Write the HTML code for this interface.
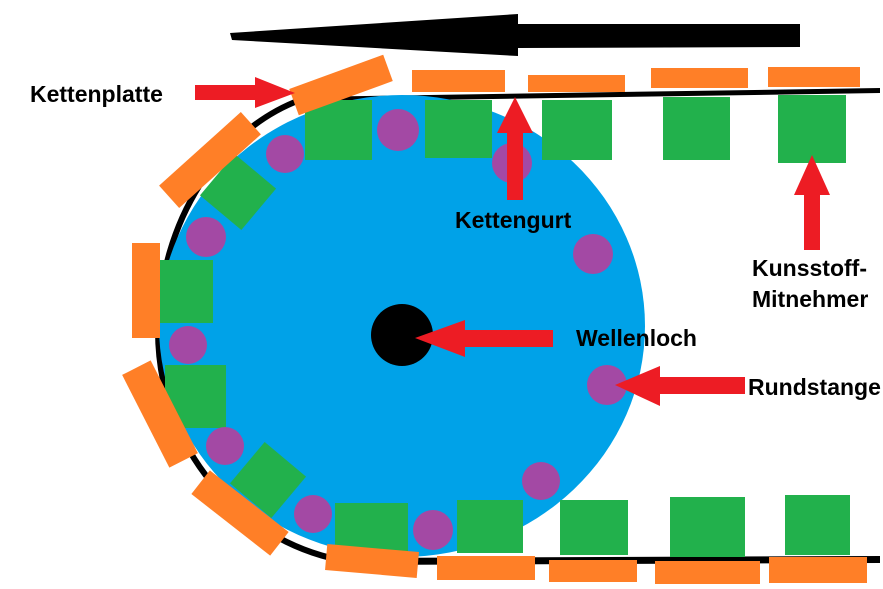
<!DOCTYPE html>
<html><head><meta charset="utf-8"><style>
html,body{margin:0;padding:0;background:#fff;width:883px;height:589px;overflow:hidden}
svg{display:block}
text{font-family:"Liberation Sans Narrow","Liberation Sans",sans-serif;font-weight:bold;font-size:23px;fill:#000}
</style></head><body>
<svg width="883" height="589" viewBox="0 0 883 589" xmlns="http://www.w3.org/2000/svg">
<!-- top black arrow -->
<polygon points="230,33 232,40 518,56 518,48 800,47 800,24 518,24 518,14" fill="#000"/>
<!-- black chain outline -->
<path d="M300,97 L880,88 L880,93 L300,102 Z" fill="#000"/>
<path d="M330,558 L880,556 L880,563 L330,565 Z" fill="#000"/>
<path d="M300,100 C220,130 160,220 158,330 C158,450 240,540 340,560" fill="none" stroke="#000" stroke-width="6"/>
<!-- blue wheel -->
<ellipse cx="402" cy="326" rx="243" ry="231" fill="#00a2e8"/>
<!-- hole -->
<circle cx="402" cy="335" r="31" fill="#000"/>
<!-- green top -->
<g fill="#22b14c">
<rect x="305" y="100" width="67" height="60"/>
<rect x="425" y="100" width="67" height="58"/>
<rect x="542" y="100" width="70" height="60"/>
<rect x="663" y="97" width="67" height="63"/>
<rect x="778" y="95" width="68" height="68"/>
<rect x="335" y="503" width="73" height="50"/>
<rect x="457" y="500" width="66" height="53"/>
<rect x="560" y="500" width="68" height="55"/>
<rect x="670" y="497" width="75" height="60"/>
<rect x="785" y="495" width="65" height="60"/>
<rect x="160" y="260" width="53" height="63"/>
<rect x="165" y="365" width="61" height="63"/>
<rect x="-27" y="-27" width="54" height="54" transform="translate(238,192) rotate(40)"/>
<rect x="-27" y="-27" width="54" height="54" transform="translate(268,480) rotate(40)"/>
</g>
<!-- purple -->
<g fill="#a349a4">
<circle cx="398" cy="130" r="21"/>
<circle cx="285" cy="154" r="19"/>
<circle cx="512" cy="163" r="20"/>
<circle cx="206" cy="237" r="20"/>
<circle cx="593" cy="254" r="20"/>
<circle cx="188" cy="345" r="19"/>
<circle cx="607" cy="385" r="20"/>
<circle cx="225" cy="446" r="19"/>
<circle cx="541" cy="481" r="19"/>
<circle cx="313" cy="514" r="19"/>
<circle cx="433" cy="530" r="20"/>
</g>
<!-- orange plates -->
<g fill="#ff7f27">
<rect x="412" y="70" width="93" height="22"/>
<rect x="528" y="75" width="97" height="17"/>
<rect x="651" y="68" width="97" height="20"/>
<rect x="768" y="67" width="92" height="20"/>
<rect x="437" y="556" width="98" height="24"/>
<rect x="549" y="560" width="88" height="22"/>
<rect x="655" y="561" width="105" height="23"/>
<rect x="769" y="557" width="98" height="26"/>
<rect x="-50" y="-14" width="100" height="28" transform="translate(341,85) rotate(-20)"/>
<rect x="-55" y="-15" width="110" height="30" transform="translate(210,160) rotate(-42)"/>
<rect x="132" y="243" width="28" height="95"/>
<rect x="-52" y="-16" width="104" height="32" transform="translate(160,414) rotate(63)"/>
<rect x="-50" y="-15" width="100" height="30" transform="translate(240,513) rotate(38)"/>
<rect x="-46" y="-13" width="92" height="26" transform="translate(372,561) rotate(5)"/>
</g>
<!-- red arrows -->
<g fill="#ed1c24">
<polygon points="195,85 255,85 255,77 295,93 255,108 255,100 195,100"/>
<polygon points="507,200 523,200 523,133 533,133 515,97 497,133 507,133"/>
<polygon points="804,250 820,250 820,195 830,195 812,155 794,195 804,195"/>
<polygon points="553,330 553,347 465,347 465,357 415,338 465,320 465,330"/>
<polygon points="745,377 745,394 660,394 660,406 615,385 660,366 660,377"/>
</g>
<!-- labels -->
<text x="30" y="102">Kettenplatte</text>
<text x="455" y="228">Kettengurt</text>
<text x="752" y="276">Kunsstoff-</text>
<text x="752" y="307">Mitnehmer</text>
<text x="576" y="346">Wellenloch</text>
<text x="748" y="395">Rundstange</text>
</svg>
</body></html>
